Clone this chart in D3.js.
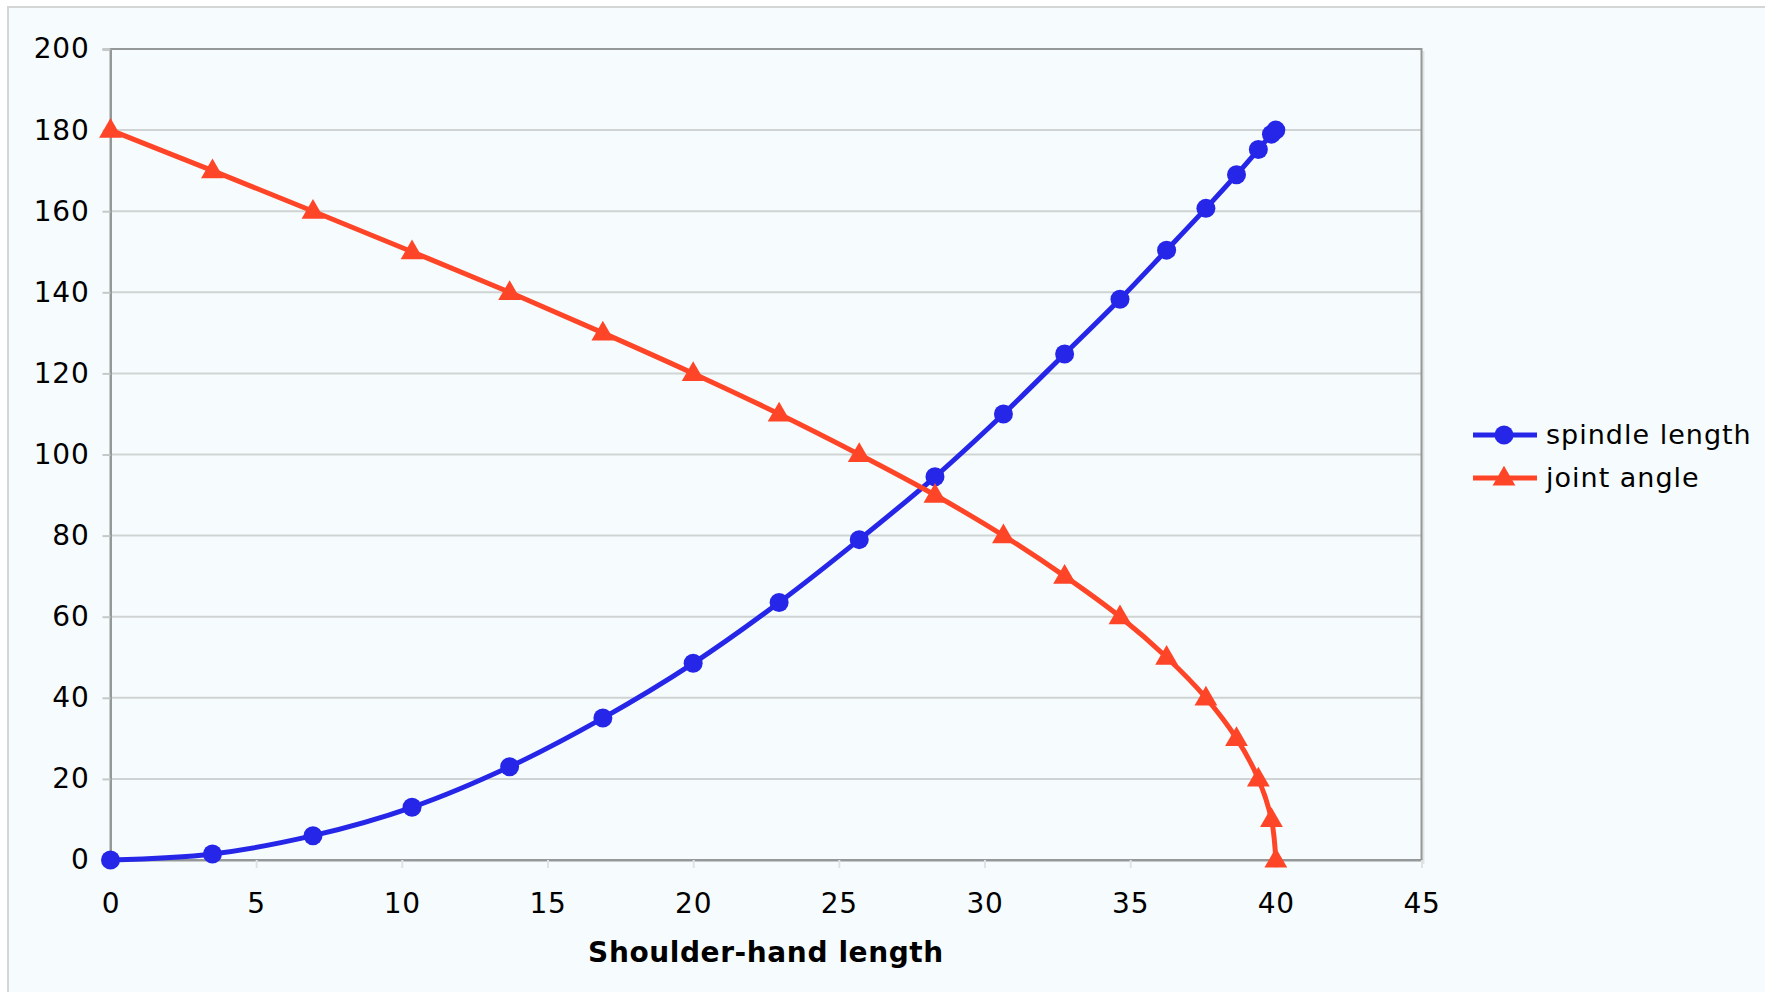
<!DOCTYPE html>
<html>
<head>
<meta charset="utf-8">
<script src="https://cdn.jsdelivr.net/npm/d3@7"></script>
<style>
    html, body { margin: 0; padding: 0; background: #ffffff; }
    svg { display: block; }
    text { font-family: "DejaVu Sans", Verdana, sans-serif; fill: #000; }
</style>
</head>
<body>
<svg id="chart" width="1765" height="992"></svg>
<script>
// Data
var shoulderHand = [0, 3.5, 6.95, 10.35, 13.7, 16.9, 20, 22.95, 25.7, 28.3, 30.65, 32.75, 34.65, 36.25, 37.6, 38.65, 39.4, 39.85, 40];
var spindleLength = [0, 1.5, 6, 13, 23, 35, 48.5, 63.5, 79, 94.5, 110, 124.8, 138.3, 150.4, 160.7, 169, 175.2, 179, 180];
var jointAngle = [180, 170, 160, 150, 140, 130, 120, 110, 100, 90, 80, 70, 60, 50, 40, 30, 20, 10, 0];
var xTicks = [0, 5, 10, 15, 20, 25, 30, 35, 40, 45];
var yTicks = [0, 20, 40, 60, 80, 100, 120, 140, 160, 180, 200];
var seriesNames = ["spindle length", "joint angle"];
var xTitle = "Shoulder-hand length";

var style = {
    blue: "#2626e8",
    red: "#ff4528",
    grid: "#cfd3d3",
    axis: "#959898",
    bg: "#f6fcfd",
    font: 27
};

var svg = d3.select("#chart");

// Chart background with its light frame
svg.append("rect")
    .attr("x", 8).attr("y", 7)
    .attr("width", 1765).attr("height", 992)
    .attr("fill", style.bg)
    .attr("stroke", "#d4d6d6")
    .attr("stroke-width", 2);

var x = d3.scaleLinear().domain([0, 45]).range([110.5, 1421.5]);
var y = d3.scaleLinear().domain([0, 200]).range([860, 49]);

// Horizontal gridlines
svg.append("g")
    .selectAll("line")
    .data(yTicks.slice(1))
    .enter().append("line")
    .attr("x1", x(0)).attr("x2", x(45))
    .attr("y1", function(d) { return y(d); })
    .attr("y2", function(d) { return y(d); })
    .attr("stroke", style.grid)
    .attr("stroke-width", 2);

// Plot frame, right side has a soft shadow
svg.append("line")
    .attr("x1", x(45) + 1.5).attr("x2", x(45) + 1.5)
    .attr("y1", y(200) + 2).attr("y2", y(0) + 4)
    .attr("stroke", "#e2e4e4").attr("stroke-width", 3);
svg.append("rect")
    .attr("x", x(0)).attr("y", y(200))
    .attr("width", x(45) - x(0)).attr("height", y(0) - y(200))
    .attr("fill", "none")
    .attr("stroke", style.axis)
    .attr("stroke-width", 2);

// Axes
var xAxis = d3.axisBottom(x).tickValues(xTicks).tickSize(8).tickPadding(25);
var yAxis = d3.axisLeft(y).tickValues(yTicks).tickSize(8).tickPadding(13);

var gx = svg.append("g")
    .attr("transform", "translate(0," + y(0) + ")")
    .call(xAxis);
var gy = svg.append("g")
    .attr("transform", "translate(" + x(0) + ",0)")
    .call(yAxis);

[gx, gy].forEach(function(g) {
    g.select(".domain").attr("stroke", style.axis).attr("stroke-width", 2);
    g.selectAll(".tick line").attr("stroke", "#c4c8c8").attr("stroke-width", 2);
    g.selectAll(".tick text")
        .attr("font-family", "DejaVu Sans, Verdana, sans-serif")
        .attr("font-size", style.font + 1)
        .attr("letter-spacing", 0.8)
        .attr("fill", "#000");
});
gx.selectAll(".tick line").attr("stroke", "#e0e3e3");
gx.selectAll(".tick text").attr("dy", "0.71em");

// Axis title
svg.append("text")
    .attr("x", (x(0) + x(45)) / 2)
    .attr("y", 962)
    .attr("text-anchor", "middle")
    .attr("font-size", 28)
    .attr("font-weight", "bold")
    .attr("letter-spacing", 0.6)
    .text(xTitle);

// Series
var series = [
    { name: seriesNames[0], values: spindleLength, color: style.blue, marker: "circle" },
    { name: seriesNames[1], values: jointAngle, color: style.red, marker: "triangle" }
];

var line = d3.line()
    .x(function(d) { return x(d[0]); })
    .y(function(d) { return y(d[1]); })
    .curve(d3.curveCatmullRom.alpha(0.5));

var triangle = d3.symbol().type(d3.symbolTriangle).size(225);

function drawMarker(g, s, cx, cy) {
    if(s.marker == "circle") {
        g.append("circle")
            .attr("cx", cx).attr("cy", cy).attr("r", 9.5)
            .attr("fill", s.color);
    }
    else {
        g.append("path")
            .attr("d", triangle())
            .attr("transform", "translate(" + cx + "," + (cy + 1) + ")")
            .attr("fill", s.color);
    }
}

series.forEach(function(s) {
    var pts = shoulderHand.map(function(v, i) { return [v, s.values[i]]; });
    var g = svg.append("g");

    g.append("path")
        .attr("d", line(pts))
        .attr("fill", "none")
        .attr("stroke", s.color)
        .attr("stroke-width", 5)
        .attr("stroke-linejoin", "round");

    pts.forEach(function(p) {
        drawMarker(g, s, x(p[0]), y(p[1]));
    });
});

// Legend
var legend = svg.append("g").attr("transform", "translate(1473,435)");
series.forEach(function(s, i) {
    var row = legend.append("g").attr("transform", "translate(0," + (i * 43) + ")");
    row.append("line")
        .attr("x1", 0).attr("x2", 64)
        .attr("y1", 0).attr("y2", 0)
        .attr("stroke", s.color)
        .attr("stroke-width", 5);
    drawMarker(row, s, 31, 0);
    row.append("text")
        .attr("x", 73).attr("y", 0)
        .attr("dy", "0.35em")
        .attr("font-size", style.font)
        .attr("letter-spacing", 1)
        .text(s.name);
});
</script>
</body>
</html>
